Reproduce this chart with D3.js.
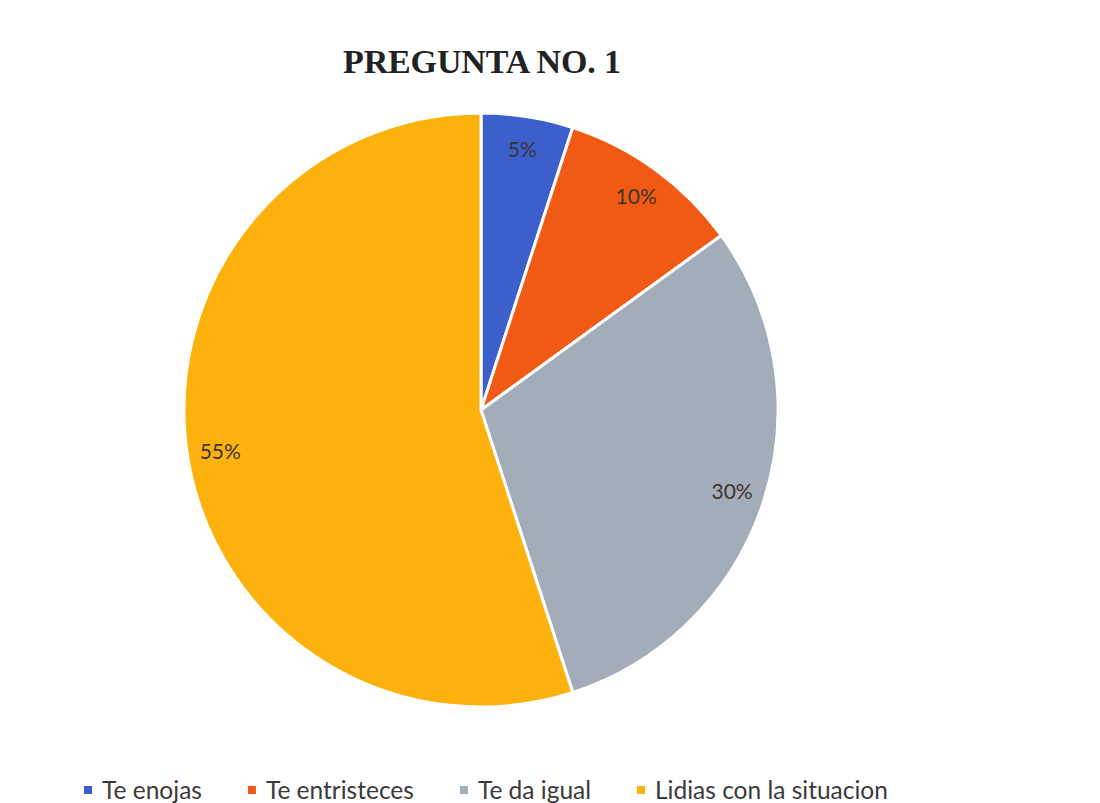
<!DOCTYPE html>
<html>
<head>
<meta charset="utf-8">
<script src="https://cdn.jsdelivr.net/npm/d3@7"></script>
<style>
  body { margin: 0; background: #fff; }
</style>
</head>
<body>
<div id="chart"></div>
<script>
// pie data
const categories = ["Te enojas", "Te entristeces", "Te da igual", "Lidias con la situacion"];
const values = [5, 10, 30, 55];
const colors = ["#3d5fcc", "#f15a14", "#a3acb9", "#fdb10d"];
const title = "PREGUNTA NO. 1";

const width = 1100, height = 803;
const cx = 481, cy = 410, radius = 297;

const svg = d3.select("#chart").append("svg")
    .attr("width", width)
    .attr("height", height);

// title (scan is a bit stretched vertically, so fit width)
svg.append("text")
    .attr("x", 482)
    .attr("y", 73)
    .attr("text-anchor", "middle")
    .attr("font-family", "Liberation Serif, Times New Roman, serif")
    .attr("font-weight", "bold")
    .attr("font-size", 34)
    .attr("fill", "#222")
    .attr("textLength", 278)
    .attr("lengthAdjust", "spacing")
    .text(title);

const data = categories.map((c, i) => ({ name: c, value: values[i], color: colors[i] }));
const total = d3.sum(values);

const pie = d3.pie().value(d => d.value).sort(null);
const arc = d3.arc().innerRadius(0).outerRadius(radius);
const labelArc = d3.arc().innerRadius(264).outerRadius(264);

const g = svg.append("g").attr("transform", `translate(${cx},${cy})`);

g.selectAll("path")
    .data(pie(data))
    .join("path")
    .attr("d", arc)
    .attr("fill", d => d.data.color)
    .attr("stroke", "#fff")
    .attr("stroke-width", 3)
    .attr("stroke-linejoin", "round");

g.selectAll("text")
    .data(pie(data))
    .join("text")
    .attr("transform", d => `translate(${labelArc.centroid(d)})`)
    .attr("text-anchor", "middle")
    .attr("dy", "0.35em")
    .attr("font-family", "Lato, Open Sans, sans-serif")
    .attr("font-size", 21)
    .attr("fill", "#3b3530")
    .text(d => Math.round(d.data.value / total * 100) + "%");

// legend, laid out by measured widths and centred
const legend = svg.append("g").attr("transform", "translate(0,790)");
const items = legend.selectAll("g")
    .data(data)
    .join("g");

items.append("rect")
    .attr("width", 8)
    .attr("height", 8)
    .attr("y", -4)
    .attr("fill", d => d.color);

items.append("text")
    .attr("x", 18)
    .attr("dy", "0.35em")
    .attr("font-family", "Lato, Open Sans, sans-serif")
    .attr("font-size", 24.5)
    .attr("fill", "#3a3a3a")
    .text(d => d.name);

let x = 0;
const gap = 46;
items.each(function () {
    const w = this.getBBox().width;
    d3.select(this).attr("transform", `translate(${x},0)`);
    x += w + gap;
});
const legendWidth = x - gap;
legend.attr("transform", `translate(${486 - legendWidth / 2},790)`);
</script>
</body>
</html>
